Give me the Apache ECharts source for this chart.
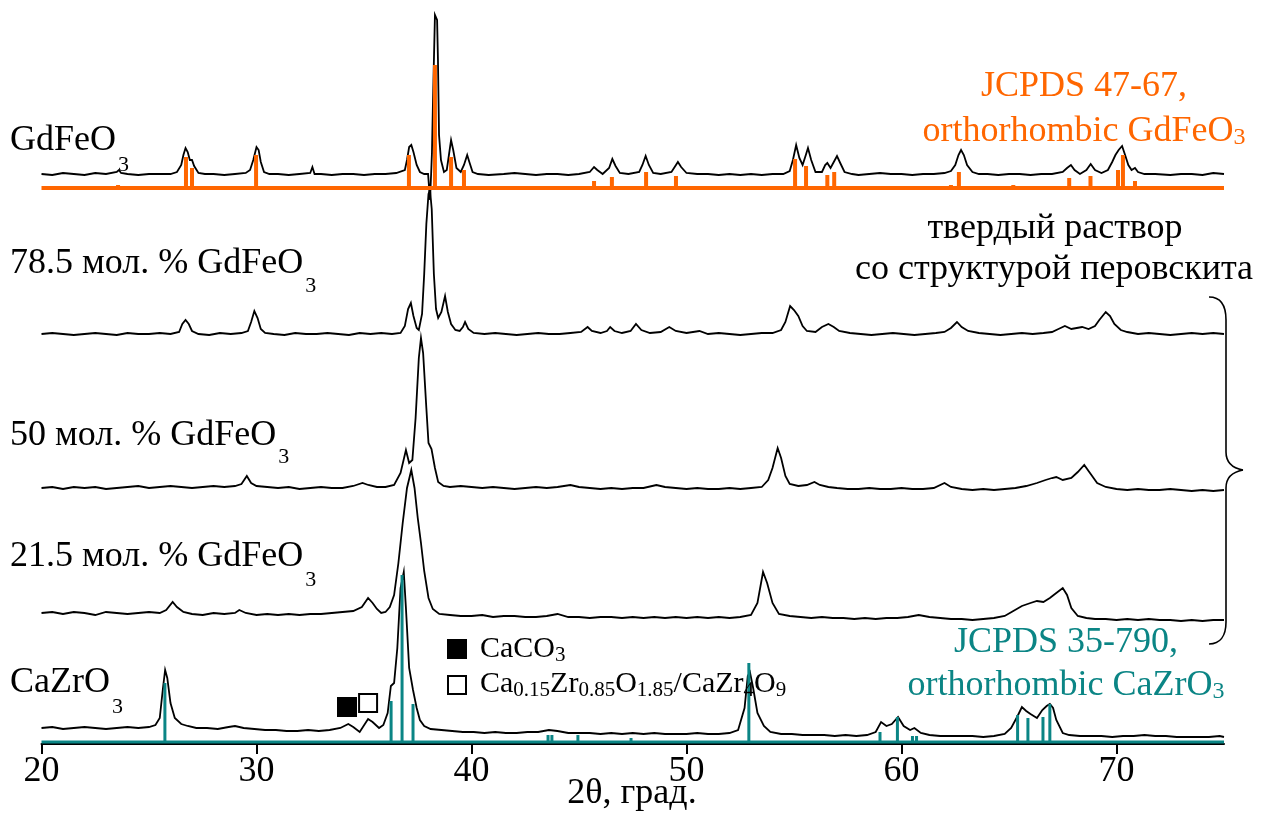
<!DOCTYPE html>
<html><head><meta charset="utf-8">
<script src="https://cdn.jsdelivr.net/npm/echarts@6/dist/echarts.min.js"></script>
<style>html,body{margin:0;padding:0;background:#fff}#c{width:1264px;height:813px}</style>
</head><body><div id="c"></div>
<script>
// ---------------- DATA ----------------
const xTickValues = [20, 30, 40, 50, 60, 70];
const xAxisTitle = '2θ, град.';

// intensities above each pattern's own baseline (arbitrary units), [2theta, I]
const gdfeo3 = [[20.0,0],[20.5,-1],[21.0,1],[21.5,0],[22.0,-1],[22.5,1],[23.0,0],[23.5,2],[23.6,4],[23.7,1],[24.0,0],[24.5,-1],[25.0,0],[25.5,0],[26.0,0],[26.3,2],[26.5,9],[26.6,19],[26.7,26],[26.8,22],[26.9,14],[27.0,14],[27.1,8],[27.3,1],[27.6,0],[28.0,0],[28.5,-1],[29.0,0],[29.5,1],[29.7,4],[29.85,14],[30.0,27],[30.1,24],[30.2,12],[30.35,2],[30.6,0],[31.0,0],[31.5,-1],[32.0,0],[32.5,1],[32.6,7],[32.7,0],[33.0,0],[33.5,-1],[34.0,0],[34.5,0],[35.0,-1],[35.5,0],[36.0,0],[36.5,1],[36.9,4],[37.0,14],[37.1,27],[37.2,29],[37.3,22],[37.45,9],[37.6,2],[37.8,0],[37.98,0],[38.07,-26],[38.12,-1],[38.16,21],[38.21,74],[38.3,159],[38.4,154],[38.44,114],[38.49,39],[38.58,14],[38.72,2],[38.85,4],[38.95,19],[39.05,34],[39.15,24],[39.3,6],[39.5,2],[39.65,9],[39.8,19],[39.9,12],[40.05,2],[40.3,0],[40.8,-1],[41.5,0],[42.0,1],[42.5,0],[43.0,-1],[43.5,0],[44.0,0],[44.5,-1],[45.0,0],[45.5,2],[45.7,7],[45.85,4],[46.1,0],[46.4,6],[46.55,15],[46.7,8],[46.9,1],[47.3,0],[47.8,2],[47.95,9],[48.1,18],[48.25,9],[48.45,1],[48.8,0],[49.3,2],[49.45,7],[49.6,12],[49.75,7],[50.0,1],[50.5,0],[51.0,0],[51.5,-1],[52.0,0],[52.5,-1],[53.0,0],[53.5,-1],[54.0,0],[54.5,0],[54.8,3],[54.95,14],[55.1,29],[55.25,16],[55.4,9],[55.55,19],[55.65,26],[55.8,14],[56.0,2],[56.3,2],[56.45,9],[56.55,11],[56.7,6],[56.85,12],[57.0,18],[57.15,11],[57.35,2],[57.7,0],[58.0,-1],[58.5,0],[59.0,1],[59.5,0],[60.0,0],[60.5,-1],[61.0,0],[61.5,0],[62.0,1],[62.3,3],[62.5,9],[62.65,19],[62.77,24],[62.9,19],[63.05,9],[63.3,2],[63.6,0],[64.0,0],[64.5,-1],[65.0,0],[65.5,0],[66.0,-1],[66.5,0],[67.0,0],[67.5,2],[67.7,6],[67.88,9],[68.05,4],[68.3,0],[68.6,4],[68.8,10],[69.0,4],[69.3,1],[69.6,4],[69.8,12],[69.95,19],[70.1,24],[70.26,28],[70.4,19],[70.55,9],[70.7,4],[70.86,6],[71.0,2],[71.3,0],[71.8,0],[72.5,-1],[73.0,0],[73.5,0],[74.0,-1],[74.5,1],[75.0,0]];

const gd785 = [[20,0],[20.5,1],[21,0],[21.5,-1],[22,0],[22.5,1],[23,0],[23.5,-1],[24,1],[24.5,0],[25,0],[25.5,1],[26,0],[26.4,2],[26.55,10],[26.7,14],[26.85,10],[27.0,3],[27.3,0],[27.8,-1],[28.3,1],[28.8,0],[29.3,1],[29.6,3],[29.75,12],[29.9,23],[30.05,16],[30.2,5],[30.4,1],[30.8,0],[31.3,-1],[31.8,1],[32.3,0],[32.8,0],[33.3,1],[33.8,0],[34.3,-1],[34.8,1],[35.3,0],[35.8,1],[36.3,0],[36.7,1],[36.9,8],[37.05,25],[37.18,31],[37.3,18],[37.45,6],[37.55,4],[37.7,20],[37.8,60],[37.9,110],[38.0,140],[38.07,144],[38.15,125],[38.25,60],[38.35,25],[38.45,16],[38.6,22],[38.77,38],[38.9,22],[39.05,10],[39.25,4],[39.45,3],[39.6,7],[39.7,12],[39.85,5],[40.1,1],[40.6,0],[41.1,1],[41.6,0],[42.1,-1],[42.6,0],[43.1,1],[43.6,0],[44.1,0],[44.6,1],[45.1,2],[45.4,7],[45.6,3],[46.0,1],[46.3,3],[46.45,7],[46.65,3],[47.0,1],[47.4,3],[47.65,10],[47.9,4],[48.3,1],[48.8,2],[49.2,7],[49.5,3],[50.0,1],[50.6,3],[51.0,0],[51.5,1],[52.0,0],[52.5,-1],[53.0,0],[53.5,1],[54.0,1],[54.4,4],[54.6,12],[54.82,28],[55.0,24],[55.2,18],[55.4,8],[55.6,3],[56.0,2],[56.3,7],[56.6,10],[56.85,7],[57.1,3],[57.6,1],[58.1,0],[58.6,-1],[59.1,0],[59.6,1],[60.1,0],[60.6,-1],[61.1,0],[61.6,1],[62.0,2],[62.3,6],[62.58,12],[62.8,7],[63.1,3],[63.6,1],[64.1,0],[64.6,-1],[65.1,0],[65.6,1],[66.1,0],[66.6,1],[67.0,2],[67.3,5],[67.6,8],[67.9,5],[68.15,6],[68.4,7],[68.7,5],[69.0,8],[69.2,14],[69.5,22],[69.7,18],[69.9,10],[70.2,4],[70.5,2],[71.0,0],[71.5,1],[72.0,0],[72.5,-1],[73.0,0],[73.5,1],[74.0,0],[74.5,1],[75.0,0]];

const gd50 = [[20,0],[20.5,1],[21,-1],[21.5,1],[22,0],[22.5,1],[23,-1],[23.5,0],[24,1],[24.5,2],[25,0],[25.5,1],[26,2],[26.5,1],[27,0],[27.5,1],[28,2],[28.5,1],[29,2],[29.3,4],[29.55,12],[29.75,5],[30,2],[30.5,1],[31,0],[31.5,1],[32,-1],[32.5,0],[33,1],[33.5,0],[34,0],[34.5,2],[34.93,5],[35.2,3],[35.6,1],[36.0,1],[36.4,3],[36.7,15],[36.95,38],[37.1,25],[37.25,28],[37.4,70],[37.55,130],[37.65,150],[37.75,135],[37.9,80],[38.0,45],[38.14,39],[38.3,20],[38.45,6],[38.7,2],[39,1],[39.5,2],[40,1],[40.5,0],[41,1],[41.5,0],[42,-1],[42.5,0],[43,1],[43.5,0],[44,1],[44.6,3],[45,1],[45.5,0],[46,-1],[46.5,0],[47,-1],[47.5,0],[48,0],[48.6,3],[49,1],[49.5,0],[50,-1],[50.5,0],[51,-1],[51.5,-1],[52,0],[52.5,-1],[53,0],[53.5,1],[53.8,8],[54.0,20],[54.24,40],[54.4,30],[54.6,12],[54.8,4],[55.2,2],[55.6,3],[55.95,6],[56.2,3],[56.6,1],[57,0],[57.5,-1],[58,-1],[58.5,0],[59,-1],[59.5,-1],[60,0],[60.5,-1],[61,-1],[61.5,0],[62.0,5],[62.3,1],[62.8,-1],[63.3,-2],[63.8,-1],[64.3,-2],[64.8,-1],[65.3,0],[65.8,2],[66.3,5],[66.7,8],[67.0,10],[67.2,11],[67.5,8],[67.9,10],[68.2,16],[68.5,23],[68.8,14],[69.1,5],[69.5,1],[70,-1],[70.5,-2],[71,-1],[71.5,-2],[72,-2],[72.5,-1],[73,-2],[73.5,-3],[74,-2],[74.5,-3],[75,-2]];

const gd215 = [[20,0],[20.5,1],[21,-1],[21.5,1],[22,0],[22.5,-2],[23,1],[23.5,0],[24,-1],[24.5,0],[25,1],[25.5,0],[25.8,3],[26.1,11],[26.3,6],[26.6,1],[27,-1],[27.5,-2],[28,0],[28.5,-1],[29,0],[29.2,3],[29.5,0],[30,-2],[30.5,-1],[31,-2],[31.5,-1],[32,-2],[32.5,-1],[33,-1],[33.5,0],[34,1],[34.5,2],[34.9,6],[35.19,15],[35.4,10],[35.6,4],[35.8,0],[36.0,1],[36.2,6],[36.4,18],[36.6,50],[36.8,90],[37.0,125],[37.2,143],[37.35,125],[37.5,95],[37.65,70],[37.8,42],[38.0,15],[38.2,4],[38.5,-1],[39,-2],[39.5,-3],[40,-3],[40.5,-2],[41,-4],[41.5,-3],[42,-3],[42.5,-4],[43,-4],[43.5,-3],[44,-1],[44.5,-4],[45,-4],[45.5,-5],[46,-4],[46.5,-4],[47,-5],[47.5,-4],[48,-5],[48.5,-4],[49,-5],[49.5,-4],[50,-5],[50.5,-4],[51,-5],[51.5,-4],[52,-5],[52.5,-4],[53,-2],[53.3,10],[53.56,41],[53.75,30],[54.0,10],[54.3,-1],[54.8,-3],[55.3,-4],[55.8,-5],[56.3,-4],[56.8,-5],[57.3,-5],[57.8,-6],[58.3,-5],[58.8,-6],[59.3,-5],[59.8,-5],[60.3,-4],[60.8,-2],[61.3,-4],[61.8,-5],[62.3,-6],[62.8,-6],[63.3,-7],[63.8,-6],[64.3,-5],[64.8,-3],[65.2,2],[65.6,7],[66.0,10],[66.3,12],[66.6,11],[66.9,15],[67.2,20],[67.5,25],[67.7,18],[67.9,5],[68.2,-3],[68.6,-5],[69,-6],[69.5,-6],[70,-7],[70.5,-6],[71,-7],[71.5,-6],[72,-7],[72.5,-7],[73,-8],[73.5,-7],[74,-8],[74.5,-7],[75,-7]];

const cazro3 = [[20,0],[20.5,1],[21,-1],[21.5,0],[22,1],[22.5,0],[23,-1],[23.5,0],[24,1],[24.5,0],[25,1],[25.3,3],[25.5,10],[25.65,40],[25.75,58],[25.85,50],[26.0,25],[26.2,10],[26.5,4],[26.8,2],[27.2,0],[27.7,0],[28.2,-1],[28.7,1],[29.0,2],[29.4,0],[29.9,-1],[30.4,-2],[30.9,-2],[31.4,-3],[31.9,-3],[32.4,-2],[32.9,-3],[33.4,-2],[33.9,0],[34.27,4],[34.5,1],[34.8,-4],[35.19,9],[35.4,6],[35.7,0],[35.9,3],[36.1,15],[36.25,42],[36.4,45],[36.55,80],[36.7,140],[36.85,156],[36.95,120],[37.1,60],[37.28,38],[37.45,20],[37.6,8],[37.8,2],[38.1,-1],[38.6,-2],[39.1,-3],[39.6,-4],[40.1,-4],[40.6,-5],[41.1,-4],[41.6,-5],[42.1,-5],[42.6,-4],[43.1,-4],[43.6,-2],[44.0,-3],[44.5,-5],[45.0,-5],[45.5,-5],[46,-6],[46.5,-5],[47,-6],[47.5,-5],[48,-6],[48.5,-5],[49,-6],[49.5,-6],[50,-6],[50.5,-5],[51,-6],[51.5,-6],[52,-5],[52.4,-2],[52.7,20],[52.85,52],[52.95,56],[53.1,40],[53.3,15],[53.6,2],[53.9,-4],[54.4,-6],[54.9,-6],[55.4,-7],[55.9,-7],[56.4,-7],[56.9,-8],[57.4,-7],[57.9,-8],[58.4,-7],[58.8,-4],[59.05,6],[59.3,2],[59.55,4],[59.84,11],[60.1,2],[60.4,-2],[60.6,0],[60.9,-5],[61.3,-7],[61.8,-8],[62.3,-8],[62.8,-8],[63.3,-8],[63.8,-9],[64.3,-8],[64.8,-6],[65.1,0],[65.4,12],[65.6,21],[65.8,17],[66.0,14],[66.3,10],[66.55,18],[66.75,22],[66.9,24],[67.05,20],[67.2,8],[67.5,-5],[67.8,-7],[68.3,-8],[68.8,-8],[69.3,-8],[69.8,-9],[70.3,-8],[70.8,-8],[71.3,-7],[71.8,-8],[72.3,-8],[72.8,-9],[73.3,-9],[73.8,-9],[74.3,-9],[74.8,-8],[75,-9]];

// reference stick patterns [2theta, relative intensity]
const jcpds47_67 = [[23.56,3],[26.72,31],[27.0,20],[29.98,33],[37.09,33],[38.3,123],[39.05,31],[39.65,18],[45.7,7],[46.53,11],[48.12,16],[49.51,12],[55.05,29],[55.56,22],[56.55,13],[56.87,16],[62.3,3],[62.67,16],[65.2,3],[67.8,10],[68.79,12],[70.07,18],[70.3,33],[70.86,7]];
const jcpds35_790 = [[25.74,59],[28.9,2],[36.26,41],[36.77,167],[37.28,38],[41.65,2],[43.05,2],[43.56,7],[43.74,7],[44.95,7],[45.93,2],[47.42,4],[48.95,2],[52.9,79],[59.0,10],[59.81,25],[60.51,6],[60.7,6],[65.4,27],[65.88,24],[66.58,25],[66.9,38]];

// impurity markers on the CaZrO3 pattern [2theta, height above its baseline]
const caco3Mark = [[34.21, 21]];
const caZrOxMark = [[35.19, 25]];

// vertical offsets of the stacked patterns
const offGd = 570, off785 = 410, off50 = 256, off215 = 131, offCa = 16, offRefGd = 556, offRefCa = 2;

// ---------------- CHART ----------------
const FONT = '"Liberation Serif", "Times New Roman", serif';
const ORANGE = '#ff6600', TEAL = '#0b8585';
const shift = (arr, off) => arr.map(p => [p[0], p[1] + off]);
function sticks(arr, base) {
  const d = [[20, base]];
  arr.forEach(([t, h]) => { d.push([t, base], [t, base + h], [t, base]); });
  d.push([75, base]);
  return d;
}
function trace(data, off, color, width) {
  return { type: 'line', data: shift(data, off), showSymbol: false, symbol: 'none', silent: true,
    lineStyle: { color: color || '#000', width: width || 1.8, join: 'miter' }, animation: false, z: 2 };
}

const mctx = document.createElement('canvas').getContext('2d');
function tw(t, size) { mctx.font = size + 'px ' + FONT; return mctx.measureText(t).width; }
// segments: [text, isSub]
function richText(segs, x, y, o) {
  const size = o.size || 36, sub = o.sub || 22, dy = o.dy || 22, color = o.color || '#000';
  let total = 0; segs.forEach(([t, s]) => total += tw(t, s ? sub : size));
  let cx = o.align === 'center' ? x - total / 2 : x;
  const els = [];
  segs.forEach(([t, s]) => {
    const fs = s ? sub : size;
    els.push({ type: 'text', x: cx + (s ? (o.subGap || 0) : 0), y: y + (s ? dy : 0), silent: true, z: 10,
      style: { text: t, font: fs + 'px ' + FONT, fill: color, align: 'left', verticalAlign: 'middle' } });
    cx += tw(t, fs) + (s ? (o.subGap || 0) : 0);
  });
  return els;
}
const braceStyle = { fill: null, stroke: '#000', lineWidth: 1.6 };
function bez(x1, y1, c1x, c1y, c2x, c2y, x2, y2) {
  return { type: 'bezierCurve', silent: true, z: 10, shape: { x1, y1, cpx1: c1x, cpy1: c1y, cpx2: c2x, cpy2: c2y, x2, y2 }, style: braceStyle };
}
function seg(x1, y1, x2, y2) {
  return { type: 'line', silent: true, z: 10, shape: { x1, y1, x2, y2 }, style: braceStyle };
}

const graphics = [].concat(
  richText([['GdFeO', 0], ['3', 1]], 10, 141, { dy: 24, subGap: 2 }),
  richText([['78.5 мол. % GdFeO', 0], ['3', 1]], 10, 264, { dy: 22, subGap: 2 }),
  richText([['50 мол. % GdFeO', 0], ['3', 1]], 10, 436, { dy: 21, subGap: 2 }),
  richText([['21.5 мол. % GdFeO', 0], ['3', 1]], 10, 557, { dy: 23, subGap: 2 }),
  richText([['CaZrO', 0], ['3', 1]], 10, 683, { dy: 24, subGap: 2 }),
  richText([['JCPDS 47-67,', 0]], 1084, 87, { align: 'center', color: ORANGE }),
  richText([['orthorhombic GdFeO', 0], ['3', 1]], 1084, 132, { align: 'center', color: ORANGE, sub: 24, dy: 6 }),
  richText([['JCPDS 35-790,', 0]], 1066, 643, { align: 'center', color: TEAL }),
  richText([['orthorhombic CaZrO', 0], ['3', 1]], 1066, 686, { align: 'center', color: TEAL, sub: 24, dy: 6 }),
  richText([['твердый раствор', 0]], 1055, 229, { align: 'center' }),
  richText([['со структурой перовскита', 0]], 1054, 270, { align: 'center' }),
  richText([['CaCO', 0], ['3', 1]], 480, 649, { size: 30, sub: 21, dy: 6 }),
  richText([['Ca', 0], ['0.15', 1], ['Zr', 0], ['0.85', 1], ['O', 0], ['1.85', 1], ['/CaZr', 0], ['4', 1], ['O', 0], ['9', 1]], 480, 684, { size: 30, sub: 21, dy: 6 }),
  richText([[xAxisTitle, 0]], 632, 794, { align: 'center' }),
  [
    { type: 'rect', shape: { x: 447, y: 639, width: 20, height: 20 }, style: { fill: '#000' }, silent: true, z: 10 },
    { type: 'rect', shape: { x: 448, y: 676, width: 18, height: 18 }, style: { fill: '#fff', stroke: '#000', lineWidth: 2 }, silent: true, z: 10 },
    bez(1209, 297, 1220, 297, 1226, 305, 1226, 320),
    seg(1226, 320, 1226, 452),
    bez(1226, 452, 1226, 462, 1232, 468, 1243, 470),
    bez(1243, 470, 1232, 472, 1226, 478, 1226, 488),
    seg(1226, 488, 1226, 622),
    bez(1226, 622, 1226, 636, 1220, 644, 1209, 644)
  ]
);

const option = {
  backgroundColor: '#fff',
  animation: false,
  grid: { left: 41.5, right: 40, top: 0, bottom: 69, containLabel: false, outerBoundsMode: 'none' },
  xAxis: {
    type: 'value', min: 20, max: 75, interval: 10,
    axisLine: { show: true, onZero: false, lineStyle: { color: '#000', width: 2 } },
    axisTick: { show: true, inside: false, length: 10, lineStyle: { color: '#000', width: 2 }, customValues: xTickValues },
    axisLabel: { fontFamily: FONT, fontSize: 36, color: '#000', margin: 10, customValues: xTickValues },
    splitLine: { show: false }
  },
  yAxis: { type: 'value', min: 0, max: 744, show: false, splitLine: { show: false } },
  series: [
    trace(gdfeo3, offGd),
    trace(gd785, off785),
    trace(gd50, off50),
    trace(gd215, off215),
    trace(cazro3, offCa),
    { type: 'line', data: sticks(jcpds47_67, offRefGd), showSymbol: false, symbol: 'none', silent: true,
      lineStyle: { color: ORANGE, width: 4, join: 'miter' }, animation: false, z: 3 },
    { type: 'line', data: sticks(jcpds35_790, offRefCa), showSymbol: false, symbol: 'none', silent: true,
      lineStyle: { color: TEAL, width: 3, join: 'miter' }, animation: false, z: 3 },
    { type: 'scatter', data: shift(caco3Mark, offCa), symbol: 'rect', symbolSize: 20, silent: true,
      itemStyle: { color: '#000', opacity: 1 }, z: 4 },
    { type: 'scatter', data: shift(caZrOxMark, offCa), symbol: 'rect', symbolSize: 18, silent: true,
      itemStyle: { color: '#fff', borderColor: '#000', borderWidth: 2, opacity: 1 }, z: 4 }
  ],
  graphic: { elements: graphics }
};
const chart = echarts.init(document.getElementById('c'), null, { renderer: 'canvas' });
chart.setOption(option);
</script>
</body></html>
